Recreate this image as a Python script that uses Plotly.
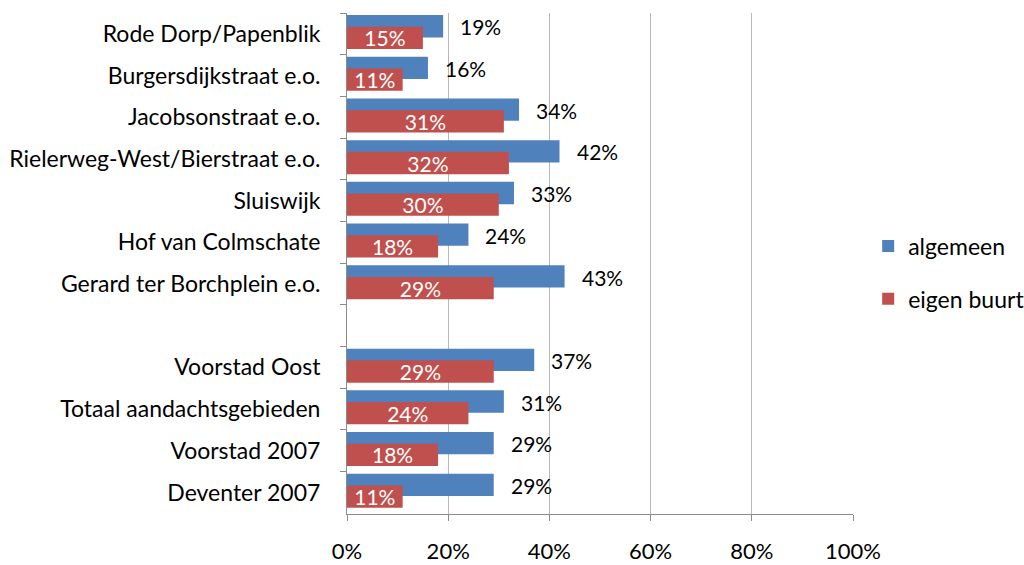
import plotly.graph_objects as go

categories = [
    "Rode Dorp/Papenblik",
    "Burgersdijkstraat e.o.",
    "Jacobsonstraat e.o.",
    "Rielerweg-West/Bierstraat e.o.",
    "Sluiswijk",
    "Hof van Colmschate",
    "Gerard ter Borchplein e.o.",
    " ",
    "Voorstad Oost",
    "Totaal aandachtsgebieden",
    "Voorstad 2007",
    "Deventer 2007",
]
algemeen = [19, 16, 34, 42, 33, 24, 43, None, 37, 31, 29, 29]
eigen_buurt = [15, 11, 31, 32, 30, 18, 29, None, 29, 24, 18, 11]
x_ticks = [0, 20, 40, 60, 80, 100]
x_ticklabels = ["0%", "20%", "40%", "60%", "80%", "100%"]

FONT = "Lato"
FS = 23
FS_LABEL = 21
BLUE = "#4F81BD"
RED = "#C0504D"

fig = go.Figure()
fig.add_trace(go.Bar(
    name="algemeen", y=categories, x=algemeen, orientation="h",
    marker=dict(color=BLUE, line=dict(width=0)),
    offset=-0.45, width=0.535, legendgroup="a",
    hoverinfo="x+y",
))
fig.add_trace(go.Bar(
    name="eigen buurt", y=categories, x=eigen_buurt, orientation="h",
    marker=dict(color=RED, line=dict(width=0)),
    offset=-0.17, width=0.535, legendgroup="b",
    text=[f"{v}%" if v is not None else "" for v in eigen_buurt],
    textposition="inside", insidetextanchor="middle",
    textfont=dict(color="white", family=FONT, size=FS_LABEL),
    hoverinfo="x+y",
))

for c, v in zip(categories, algemeen):
    if v is None:
        continue
    fig.add_annotation(
        x=v, y=c, text=f"{v}%", showarrow=False,
        xanchor="left", yanchor="middle", xshift=15, yshift=7,
        font=dict(family=FONT, size=FS_LABEL, color="black"),
    )

fig.update_layout(
    width=1024, height=565,
    margin=dict(l=347, r=171, t=13, b=51, autoexpand=False),
    barmode="overlay",
    plot_bgcolor="white", paper_bgcolor="white",
    font=dict(family=FONT, size=FS, color="black"),
    uniformtext=dict(minsize=FS_LABEL, mode="show"),
    legend=dict(
        x=1.030, y=0.482, xanchor="left", yanchor="middle",
        traceorder="grouped", tracegroupgap=20,
        font=dict(family=FONT, size=FS, color="black"),
        bgcolor="rgba(0,0,0,0)",
    ),
    showlegend=True,
)
fig.update_xaxes(
    range=[0, 100], tickvals=x_ticks, ticktext=x_ticklabels,
    showgrid=True, gridcolor="#B9B9B9", gridwidth=1,
    zeroline=False, showline=True, linecolor="#8C8C8C", linewidth=1,
    ticks="outside", ticklen=6, tickcolor="#8C8C8C",
    tickfont=dict(size=22),
    ticklabelstandoff=12, fixedrange=True, automargin=False,
)
fig.update_yaxes(
    type="category", categoryorder="array", categoryarray=categories,
    autorange="reversed",
    showgrid=False, zeroline=False, showline=True, linecolor="#8C8C8C", linewidth=1,
    ticks="outside", ticklen=6, tickcolor="#8C8C8C", tickson="boundaries",
    ticklabelstandoff=21, fixedrange=True, automargin=False,
)

fig.write_html(
    "out.html",
    config={"displayModeBar": False},
    post_script="document.body.style.margin='0';document.body.style.overflow='hidden';",
)
